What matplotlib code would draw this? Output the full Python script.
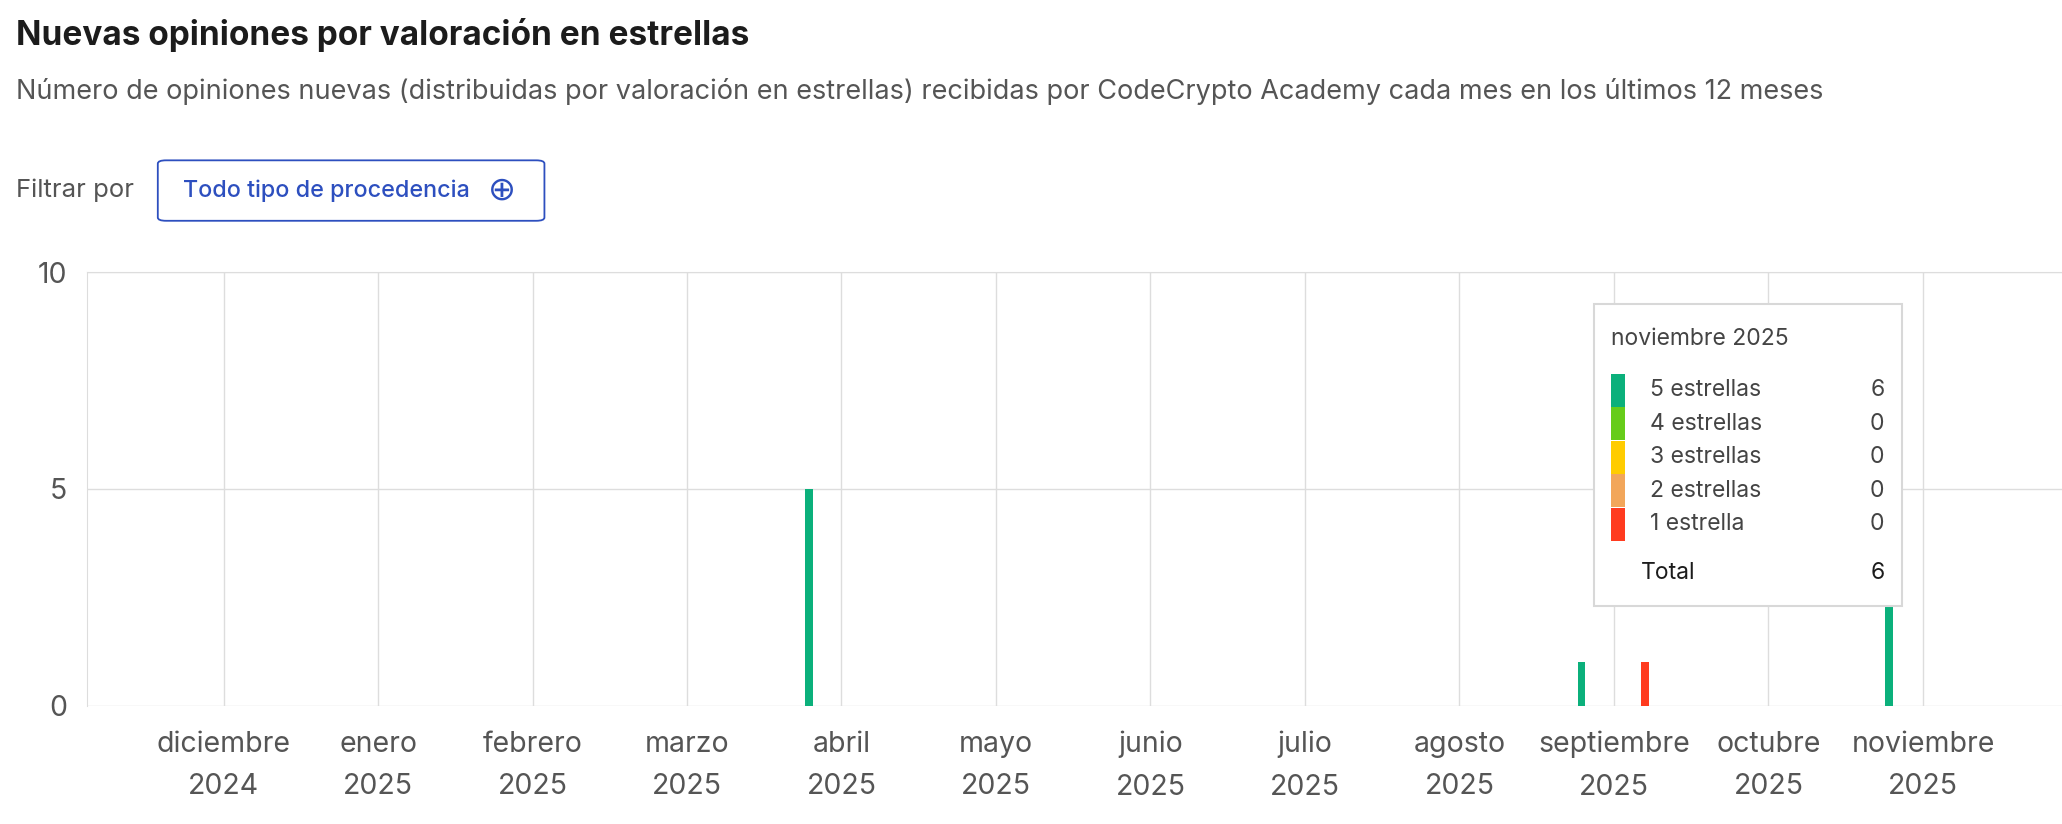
import matplotlib.pyplot as plt
from matplotlib.patches import FancyBboxPatch, Rectangle

plt.rcParams['font.family'] = ['Inter', 'DejaVu Sans']

months = ['diciembre\n2024', 'enero\n2025', 'febrero\n2025', 'marzo\n2025', 'abril\n2025', 'mayo\n2025',
          'junio\n2025', 'julio\n2025', 'agosto\n2025', 'septiembre\n2025', 'octubre\n2025', 'noviembre\n2025']
# bar positions in month units (0 = diciembre 2024) and counts
bar_pos = [3.79, 8.79, 9.20, 10.78]
bar_vals = [5, 1, 1, 6]
bar_colors = ['#0bb07b', '#0bb07b', '#ff3b1f', '#0bb07b']

legend_labels = ['5 estrellas', '4 estrellas', '3 estrellas', '2 estrellas', '1 estrella']
legend_colors = ['#0bb07b', '#66cc1a', '#ffcc00', '#f2a65a', '#ff3b1f']
legend_vals = [6, 0, 0, 0, 0]

W, H = 1568, 627
fig = plt.figure(figsize=(20.62, 8.24), dpi=100)

def fx(x):
    return x / W

def fy(y):
    return 1 - y / H

ax = fig.add_axes([fx(66), fy(537), 1 - fx(66), fy(207) - fy(537)])
ax.bar(bar_pos, bar_vals, width=0.05, color=bar_colors, zorder=3)
ax.set_xlim(-0.885, 11.9)
ax.set_ylim(0, 10)
ax.set_xticks(range(len(months)))
ax.set_xticklabels(months, fontsize=20.5, color='#555555', linespacing=1.75)
ax.set_yticks([0, 5, 10])
ax.set_yticklabels(['0', '5', '10'], fontsize=20.5, color='#555555')
ax.tick_params(length=0, pad=18)
ax.tick_params(axis='y', pad=14)
ax.grid(True, color='#dddddd', lw=1)
for s in ['right', 'bottom']:
    ax.spines[s].set_visible(False)
for s in ['left', 'top']:
    ax.spines[s].set_color('#dddddd')

fig.text(fx(12), fy(27), 'Nuevas opiniones por valoración en estrellas', fontsize=24,
         fontweight='bold', color='#1c1c1c', va='center')
fig.text(fx(12), fy(70), 'Número de opiniones nuevas (distribuidas por valoración en estrellas) recibidas por '
         'CodeCrypto Academy cada mes en los últimos 12 meses', fontsize=19.5, color='#555555', va='center')
fig.text(fx(12), fy(145), 'Filtrar por', fontsize=18.5, color='#555555', va='center')
fig.patches.append(FancyBboxPatch((fx(120), fy(168)), fx(294), fy(122) - fy(168),
                                  boxstyle='round,pad=0,rounding_size=0.004', transform=fig.transFigure,
                                  fc='white', ec='#2d4fbf', lw=1.3))
fig.text(fx(139), fy(145), 'Todo tipo de procedencia', fontsize=16.8, color='#2d4fbf',
         fontweight='medium', va='center')
fig.text(fx(382), fy(145), '⊕', fontsize=24, color='#2d4fbf', va='center', ha='center',
         family=['DejaVu Sans'], fontweight='normal')

# tooltip
fig.patches.append(Rectangle((fx(1212), fy(461)), fx(1446 - 1212), fy(231) - fy(461),
                             transform=fig.transFigure, fc='white', ec='#d8d8d8', lw=1.5, zorder=5))
fig.text(fx(1225), fy(258), 'noviembre 2025', fontsize=16.5, color='#444444', va='center', zorder=6)
for i, (lab, col, v) in enumerate(zip(legend_labels, legend_colors, legend_vals)):
    yc = 297 + i * 25.5
    fig.patches.append(Rectangle((fx(1225), fy(yc + 12.5)), fx(11), fy(yc - 12.5) - fy(yc + 12.5),
                                 transform=fig.transFigure, fc=col, ec='none', zorder=6))
    fig.text(fx(1255), fy(yc), lab, fontsize=16.5, color='#444444', va='center', zorder=6)
    fig.text(fx(1433), fy(yc), str(v), fontsize=16.5, color='#444444', va='center', ha='right', zorder=6)
fig.text(fx(1248), fy(436), 'Total', fontsize=16.5, color='#1c1c1c', va='center', zorder=6)
fig.text(fx(1433), fy(436), str(sum(legend_vals)), fontsize=16.5, color='#1c1c1c', va='center', ha='right', zorder=6)

fig.savefig('out.png', dpi=100)
